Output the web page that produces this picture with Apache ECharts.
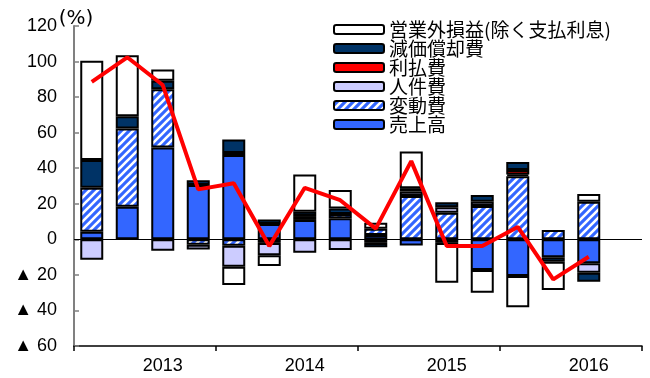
<!DOCTYPE html>
<html>
<head>
<meta charset="utf-8">
<script src="https://cdn.jsdelivr.net/npm/echarts@6/dist/echarts.min.js"></script>
<style>
  html, body { margin: 0; padding: 0; background: #ffffff; }
  #chart { width: 650px; height: 378px; }
</style>
</head>
<body>
<div id="chart"></div>
<script>
// Quarterly contributions to the change in ordinary profit (%, y/y)
const quarters = [
  '2013/1Q', '2013/2Q', '2013/3Q', '2013/4Q',
  '2014/1Q', '2014/2Q', '2014/3Q', '2014/4Q',
  '2015/1Q', '2015/2Q', '2015/3Q', '2015/4Q',
  '2016/1Q', '2016/2Q', '2016/3Q', '2016/4Q'
];

// Factor contributions (null = no contribution drawn)
const sales        = [4.3, 18.3, 51.7, 30.5, 47.4, 8.6, 10.9, 11.8, 2.5, -3.5, -2, -17.3, -20.6, -10.1, -13.5, null];
const variableCost = [24.7, 44.1, 32.7, -3, -3.6, -2, 2.2, 2.4, 3.5, 24.4, 15, 18.7, 35.5, 5.2, 21.2, null];
const personnel    = [-11.5, null, -6.4, -2.7, -11.8, -7, -7.5, -6, -2, 2.4, 3, 2.5, 1, null, -5.3, null];
const interest     = [null, null, null, null, 1.2, null, null, null, null, null, null, null, 2.5, null, null, null];
const depreciation = [15.6, 6.9, 4.8, 2.8, 7.6, 2.6, 2.4, 3.2, -2.5, 2, 2.8, 3.8, 4.5, -2.5, -5, null];
const nonOperating = [55.8, 34.3, 6.4, null, -10.3, -6, 21, 10.3, 3.3, 20.6, -22.4, -12.7, -17.6, -15.9, 4.3, null];

// Ordinary profit, y/y change
const ordinaryProfit = [88.6, 102.4, 86.8, 28.1, 31.5, -3.8, 29, 22, 6, 44, -3.8, -3.8, 7, -22.5, -9.8, null];

const yTickLabel = v => (v < 0 ? '▲ ' + (-v) : String(v));

// Blue fill with white diagonal stripes for the variable-cost bars
function makeHatch() {
  const s = 8;
  const c = document.createElement('canvas');
  c.width = s; c.height = s;
  const g = c.getContext('2d');
  g.fillStyle = '#3366ff';
  g.fillRect(0, 0, s, s);
  g.strokeStyle = '#ffffff';
  g.lineWidth = 2.6;
  g.beginPath();
  for (const o of [-s, 0, s]) {
    g.moveTo(o - 1, s + 1);
    g.lineTo(o + s + 1, -1);
  }
  g.stroke();
  return { image: c, repeat: 'repeat' };
}

function barSeries(name, data, color) {
  return {
    name: name,
    type: 'bar',
    stack: 'total',
    barWidth: 23,
    data: data,
    itemStyle: { color: color, borderColor: '#000000', borderWidth: 2 },
    emphasis: { disabled: true }
  };
}

const chart = echarts.init(document.getElementById('chart'), null, { renderer: 'canvas' });

chart.setOption({
  animation: false,
  backgroundColor: '#ffffff',
  grid: { left: 74, right: 8, top: 26, bottom: 32 },
  legend: {
    orient: 'vertical',
    left: 328,
    top: 15,
    itemWidth: 50,
    itemHeight: 9,
    itemGap: 0,
    selectedMode: false,
    textStyle: { fontSize: 19, lineHeight: 19, fontFamily: 'Noto Sans CJK JP', color: '#000000' },
    data: ['営業外損益(除く支払利息)', '減価償却費', '利払費', '人件費', '変動費', '売上高']
  },
  xAxis: {
    type: 'category',
    data: quarters,
    boundaryGap: true,
    axisLine: { onZero: false, lineStyle: { color: '#000000', width: 1.5 } },
    axisTick: { show: true, interval: 3, length: 5, lineStyle: { color: '#000000', width: 1.5 } },
    axisLabel: {
      interval: (i) => i % 4 === 2,
      formatter: (v) => v.slice(0, 4),
      fontSize: 18,
      fontFamily: 'Liberation Sans',
      color: '#000000',
      margin: 11
    },
    splitLine: { show: false }
  },
  yAxis: {
    type: 'value',
    min: -60,
    max: 120,
    interval: 20,
    name: '(%)',
    nameLocation: 'end',
    nameGap: -3,
    nameMoveOverlap: false,
    nameTextStyle: { fontSize: 20, fontFamily: 'DejaVu Sans', color: '#000000', align: 'center', padding: [0, 0, 0, 4] },
    axisLine: { show: true, lineStyle: { color: '#808080', width: 2 } },
    axisTick: { show: true, inside: true, length: 5, lineStyle: { color: '#808080', width: 1.5 } },
    axisLabel: { formatter: yTickLabel, fontSize: 18, fontFamily: 'Liberation Sans', color: '#000000', margin: 17 },
    splitLine: { show: false }
  },
  series: [
    barSeries('売上高', sales, '#3366ff'),
    barSeries('変動費', variableCost, makeHatch()),
    barSeries('人件費', personnel, '#ccccff'),
    barSeries('利払費', interest, '#ff0000'),
    barSeries('減価償却費', depreciation, '#003366'),
    barSeries('営業外損益(除く支払利息)', nonOperating, '#ffffff'),
    {
      name: '経常利益',
      type: 'line',
      data: ordinaryProfit,
      symbol: 'none',
      z: 10,
      lineStyle: { color: '#ff0000', width: 4 },
      emphasis: { disabled: true },
      markLine: {
        silent: true,
        symbol: ['none', 'none'],
        label: { show: false },
        lineStyle: { color: '#000000', width: 1, type: 'solid' },
        data: [{ yAxis: 0 }]
      }
    }
  ]
});
</script>
</body>
</html>
